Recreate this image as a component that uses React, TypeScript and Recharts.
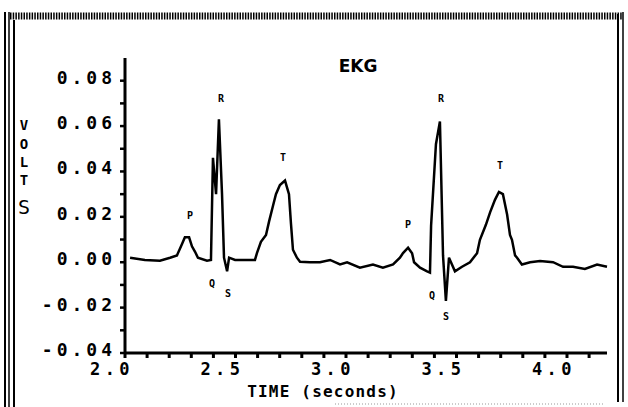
import { ComposedChart, Line, Scatter, XAxis, YAxis } from "recharts";

// EKG trace (time in seconds, volts)
const timeSec = [
  2.023, 2.09, 2.158, 2.204, 2.235, 2.258, 2.271, 2.29, 2.303, 2.317, 2.33, 2.371, 2.389,
  2.398, 2.412, 2.425, 2.439, 2.448, 2.462, 2.471, 2.498, 2.543, 2.575, 2.588, 2.597, 2.615,
  2.638, 2.652, 2.67, 2.683, 2.701, 2.724, 2.742, 2.751, 2.76, 2.778, 2.792, 2.837, 2.882,
  2.928, 2.973, 3.005, 3.063, 3.122, 3.167, 3.213, 3.244, 3.258, 3.281, 3.299, 3.308, 3.335,
  3.367, 3.38, 3.385, 3.407, 3.425, 3.439, 3.452, 3.466, 3.475, 3.493, 3.525, 3.561, 3.593,
  3.606, 3.633, 3.652, 3.674, 3.692, 3.71, 3.729, 3.742, 3.751, 3.765, 3.774, 3.796, 3.833,
  3.878, 3.937, 3.982, 4.027, 4.081, 4.136, 4.181,
];
const volts = [
  0.002, 0.001, 0.0007, 0.002, 0.003, 0.008, 0.011, 0.011, 0.007, 0.0046, 0.002, 0.0007, 0.001,
  0.046, 0.03, 0.063, 0.03, 0.002, -0.004, 0.002, 0.001, 0.001, 0.001, 0.001, 0.004, 0.009,
  0.012, 0.018, 0.025, 0.03, 0.034, 0.036, 0.03, 0.017, 0.0055, 0.002, 0.0002, 0.0, 0.0,
  0.001, -0.001, 0.0, -0.0024, -0.001, -0.0024, -0.001, 0.002, 0.004, 0.0064, 0.004, 0.0, -0.0024,
  -0.004, -0.0046, 0.016, 0.052, 0.062, 0.003, -0.017, 0.002, 0.0, -0.004, -0.002, 0.0, 0.004,
  0.0099, 0.0165, 0.022, 0.0275, 0.031, 0.03, 0.021, 0.012, 0.0099, 0.003, 0.002, -0.001, 0.0,
  0.0005, 0.0, -0.002, -0.002, -0.003, -0.001, -0.002,
];

// wave letters placed over the trace
const waveNames = ["P", "Q", "R", "S", "T", "P", "Q", "R", "S", "T"];
const waveTime = [2.294, 2.394, 2.434, 2.466, 2.715, 3.281, 3.389, 3.43, 3.452, 3.697];
const waveVolts = [0.0209, -0.009, 0.0724, -0.0134, 0.0464, 0.0169, -0.0143, 0.0724, -0.0235, 0.0429];

const xTicks = [2.0, 2.1, 2.2, 2.3, 2.4, 2.5, 2.6, 2.7, 2.8, 2.9, 3.0, 3.1, 3.2, 3.3, 3.4, 3.5, 3.6, 3.7, 3.8, 3.9, 4.0, 4.1];
const yTicks = [-0.04, -0.03, -0.02, -0.01, 0.0, 0.01, 0.02, 0.03, 0.04, 0.05, 0.06, 0.07, 0.08];

const FONT = "'DejaVu Sans Mono', monospace";

const trace = timeSec.map((t, i) => ({ t, v: volts[i] }));
const waves = waveNames.map((name, i) => ({ t: waveTime[i], v: waveVolts[i], name }));

const TimeTick = ({ x, y, payload }: any) => {
  const val = payload.value;
  const major = Math.abs(val * 2 - Math.round(val * 2)) < 1e-6;
  if (!major) return <g />;
  return (
    <text x={x - 13} y={y + 15} textAnchor="middle" fontFamily={FONT} fontWeight="bold" fontSize={17} letterSpacing={4.5} fill="#000">
      {val.toFixed(1)}
    </text>
  );
};

const VoltTick = ({ x, y, payload }: any) => {
  const val = payload.value;
  const major = Math.abs(val * 50 - Math.round(val * 50)) < 1e-6;
  if (!major) return <g />;
  return (
    <text x={x - 2} y={y + 3} textAnchor="end" fontFamily={FONT} fontWeight="bold" fontSize={18} letterSpacing={4} fill="#000">
      {val.toFixed(2)}
    </text>
  );
};

const WaveLetter = ({ cx, cy, payload }: any) => (
  <text x={cx} y={cy + 4} textAnchor="middle" fontFamily={FONT} fontWeight="bold" fontSize={10} fill="#000">
    {payload.name}
  </text>
);

export default function App() {
  return (
    <div style={{ position: "absolute", left: 0, top: 0, width: 628, height: 407, background: "#fff" }}>
      <ComposedChart width={628} height={407} data={trace} margin={{ top: 58, right: 21, bottom: 0, left: 0 }}>
        <XAxis
          dataKey="t"
          type="number"
          domain={[2, 4.18]}
          ticks={xTicks}
          interval={0}
          height={54}
          tickSize={5}
          axisLine={{ stroke: "#000", strokeWidth: 3 }}
          tickLine={{ stroke: "#000", strokeWidth: 3 }}
          tick={<TimeTick />}
        />
        <YAxis
          type="number"
          domain={[-0.04, 0.09]}
          ticks={yTicks}
          interval={0}
          width={125}
          tickSize={5}
          axisLine={{ stroke: "#000", strokeWidth: 3 }}
          tickLine={{ stroke: "#000", strokeWidth: 2.5 }}
          tick={<VoltTick />}
        />
        <Line dataKey="v" type="linear" stroke="#000" strokeWidth={2.5} dot={false} isAnimationActive={false} />
        <Scatter data={waves} dataKey="v" shape={<WaveLetter />} isAnimationActive={false} />
      </ComposedChart>
      <svg width={628} height={407} style={{ position: "absolute", left: 0, top: 0, pointerEvents: "none" }}>
        <line x1={10} y1={16} x2={623} y2={16} stroke="#000" strokeWidth={7} strokeDasharray="1.5 1.2" />
        <line x1={5} y1={12} x2={5} y2={407} stroke="#000" strokeWidth={2} />
        <line x1={9} y1={12} x2={9} y2={407} stroke="#000" strokeWidth={1.5} />
        <line x1={14} y1={20} x2={14} y2={407} stroke="#000" strokeWidth={2} />
        <line x1={618} y1={14} x2={618} y2={402} stroke="#000" strokeWidth={2} />
        <line x1={623} y1={12} x2={623} y2={402} stroke="#000" strokeWidth={1.5} />
        <line x1={335} y1={404} x2={605} y2={404} stroke="#999" strokeWidth={1} strokeDasharray="1 2" />
        <text x={358} y={72} textAnchor="middle" fontFamily="'DejaVu Sans', sans-serif" fontWeight="bold" fontSize={17} fill="#000">
          EKG
        </text>
        <text textAnchor="middle" fontFamily={FONT} fontWeight="bold" fontSize={14} fill="#000">
          <tspan x={24} y={130}>V</tspan>
          <tspan x={24} y={149}>O</tspan>
          <tspan x={24} y={167}>L</tspan>
          <tspan x={24} y={185}>T</tspan>
          <tspan x={24} y={214} fontSize={20} fontWeight="normal">S</tspan>
        </text>
        <text x={323} y={397} textAnchor="middle" fontFamily={FONT} fontWeight="bold" fontSize={16} letterSpacing={1.2} fill="#000">
          TIME (seconds)
        </text>
      </svg>
    </div>
  );
}
